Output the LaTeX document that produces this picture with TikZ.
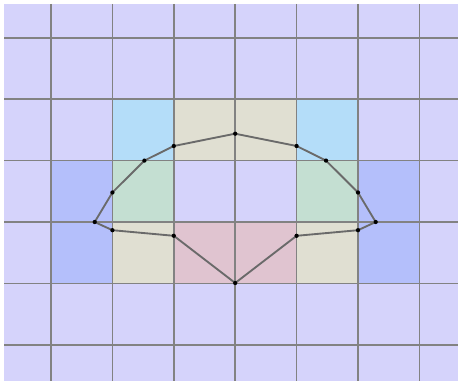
\documentclass[tikz,border=0pt]{standalone}
\definecolor{lav}{HTML}{D5D3FB}
\definecolor{skyc}{HTML}{B4DDF9}
\definecolor{beigec}{HTML}{E0DFD2}
\definecolor{greenc}{HTML}{C4DFD2}
\definecolor{bluec}{HTML}{B4BFFB}
\definecolor{pinkc}{HTML}{E0C4D0}
\definecolor{gridc}{HTML}{828282}
\definecolor{polyc}{HTML}{6A6A6A}
\tikzset{
  gridline/.style={draw=gridc, line width=1.1pt},
  polyline/.style={draw=polyc, line width=1.4pt, line join=round},
  dotmark/.style={circle, fill=black, inner sep=0pt, minimum size=3.2pt}
}
\begin{document}
\begin{tikzpicture}[x=0.75pt,y=-0.75pt]
\useasboundingbox (0,0) rectangle (458,381);
\fill[lav] (4,4) rectangle (458,381);
% coloured cells
\fill[skyc] (112.4,99.2) rectangle (173.8,160.6);
\fill[skyc] (296.6,99.2) rectangle (358,160.6);
\fill[beigec] (173.8,99.2) rectangle (296.6,160.6);
\fill[beigec] (112.4,222) rectangle (173.8,283.4);
\fill[beigec] (296.6,222) rectangle (358,283.4);
\fill[greenc] (112.4,160.6) rectangle (173.8,222);
\fill[greenc] (296.6,160.6) rectangle (358,222);
\fill[bluec] (51,160.6) rectangle (112.4,283.4);
\fill[bluec] (358,160.6) rectangle (419.4,283.4);
\fill[pinkc] (173.8,222) rectangle (296.6,283.4);
% grid
\foreach \x in {51,112.4,173.8,235.2,296.6,358,419.4}
  \draw[gridline] (\x,4) -- (\x,381);
\foreach \y in {37.8,99.2,160.6,222,283.4,344.8}
  \draw[gridline] (4,\y) -- (458,\y);
% polygon points
\coordinate (p1) at (235.2,133.7);
\coordinate (r2) at (296.6,146);
\coordinate (r3) at (326,160.6);
\coordinate (r4) at (358,192.5);
\coordinate (r5) at (375.7,222);
\coordinate (r6) at (358,230.2);
\coordinate (r7) at (296.6,235.8);
\coordinate (p8) at (235.2,283);
\coordinate (l7) at (173.8,235.8);
\coordinate (l6) at (112.4,230.2);
\coordinate (l5) at (94.7,222);
\coordinate (l4) at (112.4,192.5);
\coordinate (l3) at (144.4,160.6);
\coordinate (l2) at (173.8,146);
\draw[polyline] (p1) -- (r2) -- (r3) -- (r4) -- (r5) -- (r6) -- (r7) -- (p8)
  -- (l7) -- (l6) -- (l5) -- (l4) -- (l3) -- (l2) -- cycle;
\foreach \p in {p1,r2,r3,r4,r5,r6,r7,p8,l7,l6,l5,l4,l3,l2}
  \node[dotmark] (d\p) at (\p) {};
\end{tikzpicture}
\end{document}
